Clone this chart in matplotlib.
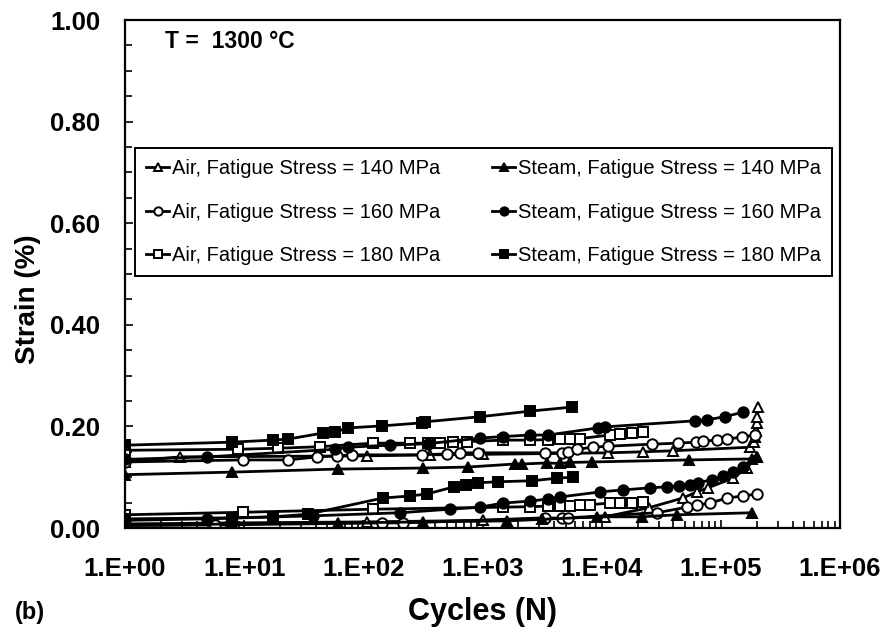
import numpy as np
import matplotlib
matplotlib.use("Agg")
import matplotlib.pyplot as plt
from matplotlib.ticker import FixedLocator, LogLocator, FuncFormatter, NullFormatter

plt.rcParams['font.family'] = ['Liberation Sans', 'DejaVu Sans']

# fatigue test data at 1300 C: cycles vs max / min strain (%)
air140_max_n = [1, 2.9, 107, 362, 1007, 11270, 22170, 39550, 175000, 190000, 195000, 198000, 200000, 203000, 207000]
air140_max_e = [0.130, 0.140, 0.142, 0.144, 0.145, 0.148, 0.150, 0.152, 0.159, 0.170, 0.180, 0.190, 0.207, 0.219, 0.238]
air140_min_n = [1, 7.9, 107, 1007, 10640, 25000, 47980, 62900, 77880, 126000, 165000, 200500]
air140_min_e = [0.008, 0.010, 0.012, 0.015, 0.022, 0.040, 0.059, 0.071, 0.079, 0.098, 0.118, 0.140]

air160_max_n = [1, 9.8, 23.3, 41, 60, 80, 310, 502, 646, 915, 3337, 4634, 5200, 6194, 8440, 11270,
                26370, 43570, 61700, 70660, 92540, 112300, 150000, 193000]
air160_max_e = [0.130, 0.134, 0.134, 0.140, 0.142, 0.144, 0.144, 0.146, 0.148, 0.148, 0.148, 0.148, 0.150,
                0.155, 0.159, 0.161, 0.165, 0.167, 0.169, 0.171, 0.173, 0.175, 0.179, 0.183]
air160_min_n = [1, 5.7, 143, 215, 3337, 4634, 5200, 29040, 51880, 62900, 80950, 112300, 153000, 200500]
air160_min_e = [0.005, 0.006, 0.010, 0.010, 0.020, 0.019, 0.020, 0.030, 0.041, 0.045, 0.049, 0.059, 0.063, 0.067]

air180_max_n = [1, 8.9, 19.2, 43, 120, 246, 348, 439, 565, 740, 1483, 2500, 3539, 4457, 5408, 6559,
                11720, 14220, 17920, 22170]
air180_max_e = [0.153, 0.155, 0.157, 0.160, 0.167, 0.167, 0.167, 0.168, 0.169, 0.170, 0.173, 0.173, 0.174,
                0.175, 0.176, 0.176, 0.183, 0.185, 0.187, 0.189]
air180_min_n = [1, 9.8, 120, 1483, 2500, 3539, 4457, 5408, 6559, 8000, 11720, 14220, 17920, 22170]
air180_min_e = [0.026, 0.031, 0.037, 0.041, 0.042, 0.043, 0.043, 0.044, 0.045, 0.046, 0.049, 0.049, 0.050, 0.051]

steam140_max_n = [1, 7.9, 61, 316, 755, 1871, 2143, 3467, 4457, 5408, 8270, 53950, 182000, 200500]
steam140_max_e = [0.105, 0.110, 0.116, 0.118, 0.120, 0.126, 0.126, 0.128, 0.127, 0.129, 0.130, 0.134, 0.136, 0.140]
steam140_min_n = [1, 7.9, 61, 316, 1603, 3150, 9120, 21730, 42740, 182000]
steam140_min_e = [0.005, 0.008, 0.010, 0.012, 0.014, 0.017, 0.022, 0.022, 0.026, 0.030]

steam160_max_n = [1, 4.9, 58, 74, 167, 348, 951, 1483, 2500, 3539, 9290, 10640, 60530, 76420, 108000, 153000]
steam160_max_e = [0.135, 0.140, 0.155, 0.159, 0.163, 0.166, 0.177, 0.180, 0.183, 0.183, 0.197, 0.199, 0.211,
                  0.213, 0.219, 0.228]
steam160_min_n = [1, 4.9, 38, 203, 533, 951, 1483, 2500, 3539, 4457, 9660, 15060, 25350, 35240, 44420,
                  54990, 64120, 84140, 104000, 126000, 153000]
steam160_min_e = [0.015, 0.018, 0.024, 0.030, 0.037, 0.041, 0.049, 0.053, 0.057, 0.061, 0.071, 0.075, 0.079,
                  0.081, 0.083, 0.085, 0.089, 0.095, 0.102, 0.110, 0.120]

steam180_max_n = [1, 7.9, 17.4, 23.3, 46, 58, 74, 143, 310, 329, 951, 2500, 5623]
steam180_max_e = [0.163, 0.169, 0.173, 0.175, 0.187, 0.189, 0.197, 0.201, 0.207, 0.209, 0.219, 0.230, 0.238]
steam180_min_n = [1, 7.9, 17.4, 34, 146, 246, 342, 576, 726, 915, 1345, 2596, 4209, 5729]
steam180_min_e = [0.018, 0.020, 0.022, 0.027, 0.059, 0.063, 0.067, 0.081, 0.085, 0.089, 0.091, 0.093, 0.098, 0.100]

series = [
    ("Air, Fatigue Stress = 140 MPa", "^", "white", air140_max_n, air140_max_e, air140_min_n, air140_min_e),
    ("Air, Fatigue Stress = 160 MPa", "o", "white", air160_max_n, air160_max_e, air160_min_n, air160_min_e),
    ("Air, Fatigue Stress = 180 MPa", "s", "white", air180_max_n, air180_max_e, air180_min_n, air180_min_e),
    ("Steam, Fatigue Stress = 140 MPa", "^", "black", steam140_max_n, steam140_max_e, steam140_min_n, steam140_min_e),
    ("Steam, Fatigue Stress = 160 MPa", "o", "black", steam160_max_n, steam160_max_e, steam160_min_n, steam160_min_e),
    ("Steam, Fatigue Stress = 180 MPa", "s", "black", steam180_max_n, steam180_max_e, steam180_min_n, steam180_min_e),
]

fig = plt.figure(figsize=(8.88, 6.35), dpi=100)
ax = fig.add_axes([125 / 888, 107 / 635, 715 / 888, 508 / 635])

handles = []
for label, mk, face, nmax, emax, nmin, emin in series:
    style = dict(color="black", lw=2.0, marker=mk, ms=7.5, mfc=face, mec="black", mew=1.4)
    h, = ax.plot(nmax, emax, label=label, **style)
    ax.plot(nmin, emin, **style)
    handles.append(h)

ax.set_xscale("log")
ax.set_xlim(1, 1e6)
ax.set_ylim(0, 1.0)

ax.xaxis.set_major_locator(FixedLocator([10.0 ** k for k in range(7)]))
ax.xaxis.set_minor_locator(LogLocator(base=10, subs=np.arange(2, 10)))
ax.xaxis.set_major_formatter(FuncFormatter(lambda v, p: f"1.E+{int(round(np.log10(v))):02d}"))
ax.xaxis.set_minor_formatter(NullFormatter())
ax.set_yticks(np.arange(0, 1.01, 0.2))
ax.set_yticks(np.arange(0, 1.01, 0.05), minor=True)
ax.yaxis.set_major_formatter(FuncFormatter(lambda v, p: f"{v:.2f}"))

ax.tick_params(axis="both", which="both", direction="in", top=False, right=False, width=1.2)
ax.tick_params(axis="both", which="major", length=6, labelsize=18.5)
ax.tick_params(axis="both", which="minor", length=5)
ax.tick_params(axis="x", which="major", pad=21)
ax.tick_params(axis="y", which="major", pad=18)
for lbl in ax.get_xticklabels() + ax.get_yticklabels():
    lbl.set_fontweight("bold")
for sp in ax.spines.values():
    sp.set_linewidth(1.6)

ax.set_xlabel("Cycles (N)", fontsize=22, fontweight="bold")
ax.set_ylabel("Strain (%)", fontsize=20, fontweight="bold")
ax.xaxis.set_label_coords(0.5, -0.135)
ax.yaxis.set_label_coords(-0.118, 0.45)

ax.text(0.056, 0.957, "T =  1300 °C", transform=ax.transAxes, fontsize=16.5,
        fontweight="bold", ha="left", va="center")
fig.text(15 / 888, 1 - 612 / 635, "(b)", fontsize=17, fontweight="bold", ha="left", va="center")

leg = ax.legend(handles=handles, loc="upper left", ncol=2,
                bbox_to_anchor=(0.014, 0.748), borderaxespad=0,
                fontsize=14.5, handlelength=1.15, handletextpad=0.12, labelspacing=1.22,
                columnspacing=2.6, borderpad=0.55, markerscale=0.8,
                fancybox=False, edgecolor="black", framealpha=1)
leg.get_frame().set_linewidth(1.4)

fig.savefig("out.png", dpi=100)
